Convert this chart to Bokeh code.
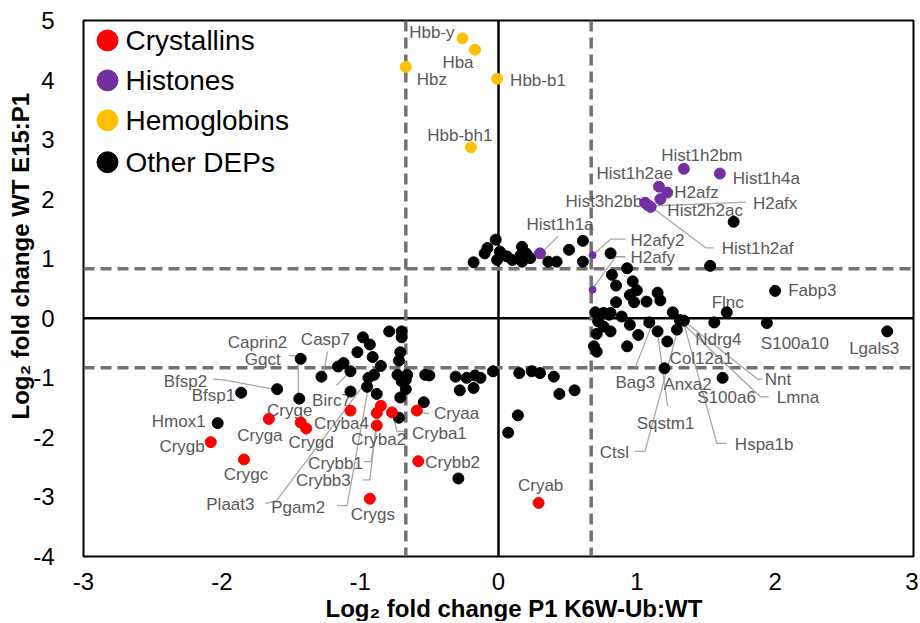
from bokeh.plotting import figure
from bokeh.models import Range1d, Span, FixedTicker, Title
from bokeh.core.properties import value
from bokeh.embed import file_html
from bokeh.resources import INLINE

# ---------------- data ----------------
cry_names = ["Crygb", "Crygc", "Cryga", "Cryge", "Crygd", "Cryba4", "Crybb1", "Crybb3",
             "Cryba2", "Cryba1", "Cryaa", "Crybb2", "Crygs", "Cryab"]
cry_x = [-2.08, -1.84, -1.66, -1.43, -1.39, -1.07, -0.85, -0.88, -0.88, -0.77, -0.59, -0.58, -0.93, 0.29]
cry_y = [-2.08, -2.37, -1.69, -1.75, -1.85, -1.55, -1.47, -1.59, -1.80, -1.58, -1.55, -2.40, -3.03, -3.10]

his_names = ["Hist1h2bm", "Hist1h4a", "Hist1h2ae", "H2afz", "Hist2h2ac", "Hist3h2bb", "H2afx",
             "Hist1h2af", "Hist1h1a"]
his_x = [1.34, 1.60, 1.16, 1.22, 1.17, 1.06, 1.08, 1.10, 0.30]
his_y = [2.51, 2.43, 2.21, 2.11, 2.00, 1.94, 1.90, 1.87, 1.09]
his_small_names = ["H2afy2", "H2afy"]
his_small_x = [0.68, 0.68]
his_small_y = [1.06, 0.48]

hem_names = ["Hbb-y", "Hba", "Hbz", "Hbb-b1", "Hbb-bh1"]
hem_x = [-0.26, -0.17, -0.67, -0.01, -0.20]
hem_y = [4.70, 4.51, 4.22, 4.02, 2.87]

oth_names = ["", "", "", "", "", "", "", "", "", "", "", "", "Birc7", "Casp7", "", "", "", "Plaat3", "",
             "Pgam2", "", "", "", "", "", "", "", "", "", "", "", "", "", "", "", "", "", "", "", "",
             "", "", "", "", "", "Gqct", "Bfsp2", "Bfsp1", "Caprin2", "Hmox1",
             "", "", "", "", "", "", "", "", "", "", "", "", "", "", "", "", "", "", "", "", "", "",
             "", "", "", "", "", "", "", "", "", "", "Flnc", "", "", "Nnt", "", "", "", "Bag3", "Lmna",
             "Hspa1b", "Ndrg4", "", "", "", "", "Sqstm1", "Ctsl", "Col12a1", "", "", "", "S100a10",
             "Fabp3", "Lgals3", "Anxa2", "S100a6", "", ""]
oth_x = [-0.79, -0.70, -0.98, -0.93, -0.70, -1.02, -0.91, -0.71, -0.72, -0.85, -1.16, -1.12, -1.07, -1.28,
         -0.90, -0.73, -0.66, -0.94, -0.67, -0.95, -0.70, -1.07, -0.88, -0.67, -0.71, -0.54, -0.72, -0.53,
         -0.50, -0.31, -0.23, -0.17, -0.13, -0.28, -0.18, -0.04, 0.15, 0.24, 0.30, 0.40, 0.44, 0.55, 0.14,
         0.07, -0.29, -1.43, -1.60, -1.86, -1.44, -2.03,
         -0.18, -0.10, -0.08, -0.02, 0.01, -0.01, 0.06, 0.10, 0.17, 0.16, 0.20, 0.23, 0.17, 0.36, 0.42,
         0.51, 0.61, 0.61, 0.81, 0.93, 1.53, 1.70,
         0.82, 0.97, 0.85, 1.00, 0.95, 1.15, 0.85, 0.98, 1.07, 1.17, 1.65, 0.81, 0.70, 1.26, 0.72, 0.89,
         0.95, 1.09, 1.31, 1.34, 1.56, 0.76, 0.81, 0.71, 1.01, 1.15, 1.29, 1.22, 0.93, 0.69, 0.71, 1.94,
         2.00, 2.81, 1.20, 1.62, 0.80, 0.76]
oth_y = [-0.22, -0.22, -0.32, -0.44, -0.32, -0.57, -0.65, -0.57, -0.71, -0.80, -0.81, -0.75, -0.89, -0.98,
         -0.95, -0.95, -0.95, -1.00, -1.03, -1.15, -1.06, -1.23, -1.27, -1.19, -1.33, -1.41, -1.67, -0.95,
         -0.96, -0.98, -1.00, -0.96, -1.00, -1.21, -1.17, -0.89, -0.92, -0.89, -0.92, -0.98, -1.27, -1.21,
         -1.63, -1.92, -2.69, -0.68, -1.19, -1.25, -1.35, -1.76,
         0.94, 1.09, 1.18, 1.32, 1.12, 0.98, 1.04, 0.98, 1.20, 1.06, 1.09, 1.01, 0.95, 0.95, 0.95,
         1.15, 1.30, 0.95, 1.09, 0.84, 0.88, 1.62,
         0.73, 0.62, 0.55, 0.47, 0.39, 0.43, 0.27, 0.27, 0.28, 0.30, 0.10, 0.09, 0.10, 0.10, -0.05, 0.03,
         -0.11, -0.07, -0.03, -0.04, -0.07, -0.14, -0.22, -0.26, -0.28, -0.22, -0.19, -0.39, -0.47, -0.47,
         -0.56, -0.08, 0.46, -0.22, -0.84, -1.00, 0.06, 0.09]

legend_names = ["Crystallins", "Histones", "Hemoglobins", "Other DEPs"]
x_ticks = [-3, -2, -1, 0, 1, 2, 3]
y_ticks = [-4, -3, -2, -1, 0, 1, 2, 3, 4, 5]
x_title = "Log\u2082 fold change P1 K6W-Ub:WT"
y_title = "Log\u2082 fold change WT E15:P1"
x_cut = 0.67
y_cut = 0.83

# ---------------- layout / style ----------------
FW, FH = 830, 537
PXX = FW / 6.0
PXY = FH / 9.0
RED, PURPLE, ORANGE = "#FF0000", "#7030A0", "#FFC000"
LABEL_COL = "#595959"
LEADER_COL = "#A6A6A6"
FONT = "Liberation Sans"

# label offsets in screen pixels from the point (dx right, dy down), alignment
LABEL_POS = {
    "Hbb-y": (-8, -6, "right"), "Hba": (-17, 13, "center"), "Hbz": (26, 13, "center"),
    "Hbb-b1": (13, 2, "left"), "Hbb-bh1": (-11, -12, "center"),
    "Hist1h2bm": (18, -13, "center"), "Hist1h4a": (13, 5, "left"), "Hist1h2ae": (14, -13, "right"),
    "H2afz": (7, 0, "left"), "Hist2h2ac": (7, 11, "left"), "Hist3h2bb": (-3, -1, "right"),
    "H2afx": (105, -2, "left"), "Hist1h2af": (71, 42, "left"), "Hist1h1a": (20, -29, "center"),
    "H2afy2": (38, -15, "left"), "H2afy": (38, -32, "left"),
    "Crygb": (-6, 4, "right"), "Crygc": (2, 15, "center"), "Cryga": (-9, 17, "center"),
    "Cryge": (-11, -12, "center"), "Crygd": (5, 14, "center"), "Cryba4": (-9, 13, "center"),
    "Crybb1": (-18, 58, "right"), "Crybb3": (-26, 68, "right"), "Cryba2": (2, 14, "center"),
    "Cryba1": (20, 21, "left"), "Cryaa": (17, 3, "left"), "Crybb2": (7, 1, "left"),
    "Crygs": (3, 16, "center"), "Cryab": (2, -17, "center"),
    "Hmox1": (-12, -2, "right"), "Bfsp1": (-6, 3, "right"), "Bfsp2": (-70, -8, "right"),
    "Gqct": (-20, 1, "right"), "Caprin2": (-12, -56, "right"), "Casp7": (4, -37, "center"),
    "Birc7": (-19, 29, "center"), "Plaat3": (-114, 127, "right"), "Pgam2": (-42, 121, "right"),
    "Fabp3": (13, 0, "left"), "Flnc": (1, -10, "center"), "S100a10": (28, 20, "center"),
    "Lgals3": (-13, 17, "center"), "Ndrg4": (4, 17, "center"), "Col12a1": (34, 17, "center"),
    "Bag3": (-14, 60, "center"), "Anxa2": (23, 16, "center"), "Sqstm1": (8, 92, "center"),
    "Ctsl": (-48, 123, "right"), "Hspa1b": (51, 124, "left"), "Nnt": (92, 67, "left"),
    "Lmna": (97, 78, "left"), "S100a6": (4, 20, "center"),
}
LEADERS = {
    "Hist1h1a": [(3, -2), (18, -17)],
    "H2afy2": [(1, -1), (18, -16), (33, -16)],
    "H2afy": [(1, -2), (23, -33), (33, -33)],
    "H2afx": [(2, 1), (98, -3)],
    "Hist1h2af": [(2, 1), (55, 41), (63, 41)],
    "Crybb1": [(-17, 56), (-10, 56), (-1, 4)],
    "Crybb3": [(-14, 67), (-7, 67), (0, 8)],
    "Cryba1": [(1, 3), (5, 19), (12, 19)],
    "Cryaa": [(3, 2), (12, 3)],
    "Bfsp2": [(-64, -10), (-52, -9), (-4, 0)],
    "Gqct": [(-12, -3), (-4, -3)],
    "Caprin2": [(-1, -39), (-1, -4)],
    "Casp7": [(6, -25), (2, -3)],
    "Birc7": [(-14, 14), (-2, 2)],
    "Plaat3": [(-103, 126), (-92, 123), (-1, 2)],
    "Pgam2": [(-30, 119), (-20, 119), (1, 2)],
    "Bag3": [(-14, 45), (2, 4)],
    "Sqstm1": [(10, 75), (0, 2)],
    "Ctsl": [(-42, 122), (-32, 122), (0, 3)],
    "Hspa1b": [(43, 123), (33, 123), (0, 3)],
    "Nnt": [(0, 0), (85, 67), (90, 67)],
    "Lmna": [(-4, -3), (81, 77), (89, 77)],
}

p = figure(width=918, height=621, x_range=Range1d(-3, 3), y_range=Range1d(-4, 5),
           output_backend="svg", toolbar_location=None,
           min_border_left=83, min_border_right=5, min_border_top=20, min_border_bottom=64)
p.background_fill_color = "white"
p.border_fill_color = "white"
p.outline_line_color = "black"
p.outline_line_width = 2
p.grid.visible = False

for ax, ticks, standoff in ((p.xaxis, x_ticks, 16), (p.yaxis, y_ticks, 29)):
    ax.ticker = FixedTicker(ticks=ticks)
    ax.major_label_overrides = {t: str(t) for t in ticks}
    ax.axis_line_color = None
    ax.major_tick_line_color = None
    ax.minor_tick_line_color = None
    ax.major_tick_out = 0
    ax.major_tick_in = 0
    ax.major_label_standoff = standoff
    ax.major_label_text_font = FONT
    ax.major_label_text_font_size = "24px"
    ax.major_label_text_color = "black"

# axis titles
p.add_layout(Title(text=y_title, align="left", offset=137, standoff=-7,
                   text_font=FONT, text_font_style="bold", text_font_size="24px",
                   text_color="black"), "left")
p.add_layout(Title(text=x_title, align="left", offset=242, standoff=0,
                   text_font=FONT, text_font_style="bold", text_font_size="24px",
                   text_color="black"), "below")

# zero lines and cut-off lines
for loc, dim in ((0, "height"), (0, "width")):
    p.add_layout(Span(location=loc, dimension=dim, line_color="black", line_width=2.5, level="underlay"))
for loc in (-x_cut, x_cut):
    p.add_layout(Span(location=loc, dimension="height", line_color="#767171", line_width=3.5,
                      line_dash="11 6", level="underlay"))
for loc in (-y_cut, y_cut):
    p.add_layout(Span(location=loc, dimension="width", line_color="#767171", line_width=3.5,
                      line_dash="11 6", level="underlay"))

# lookup for labels
pts = {}
for names, xs, ys in ((cry_names, cry_x, cry_y), (his_names, his_x, his_y),
                      (his_small_names, his_small_x, his_small_y), (hem_names, hem_x, hem_y),
                      (oth_names, oth_x, oth_y)):
    for n, xv, yv in zip(names, xs, ys):
        if n:
            pts[n] = (xv, yv)

# leader lines
lxs, lys = [], []
for n, segs in LEADERS.items():
    x0, y0 = pts[n]
    lxs.append([x0 + dx / PXX for dx, dy in segs])
    lys.append([y0 - dy / PXY for dx, dy in segs])
p.multi_line(xs=lxs, ys=lys, line_color=LEADER_COL, line_width=1.3)

# labels
for align in ("left", "center", "right"):
    tx, ty, tt = [], [], []
    for n, (dx, dy, a) in LABEL_POS.items():
        if a != align:
            continue
        x0, y0 = pts[n]
        tx.append(x0 + dx / PXX)
        ty.append(y0 - dy / PXY)
        tt.append(n)
    p.text(x=tx, y=ty, text=tt, text_align=align, text_baseline="middle",
           text_font=value(FONT), text_font_size="17px", text_color=LABEL_COL)

# points
p.scatter(oth_x, oth_y, size=11, color="black")
p.scatter(cry_x, cry_y, size=11, color=RED)
p.scatter(hem_x, hem_y, size=11, color=ORANGE)
p.scatter(his_x, his_y, size=11, color=PURPLE)
p.scatter(his_small_x, his_small_y, size=7, color=PURPLE)

# legend (pixel-space ranges inside the frame)
p.extra_x_ranges = {"lx": Range1d(0, FW)}
p.extra_y_ranges = {"ly": Range1d(FH, 0)}
leg_y = [20, 60, 100, 142]
p.scatter([24] * 4, leg_y, size=21, color=[RED, PURPLE, ORANGE, "black"],
          x_range_name="lx", y_range_name="ly")
p.text([42] * 4, leg_y, text=legend_names, text_align="left", text_baseline="middle",
       text_font=value(FONT), text_font_size="28px", text_color="black",
       x_range_name="lx", y_range_name="ly")

open("out.html", "w").write(file_html(p, INLINE, "chart"))
